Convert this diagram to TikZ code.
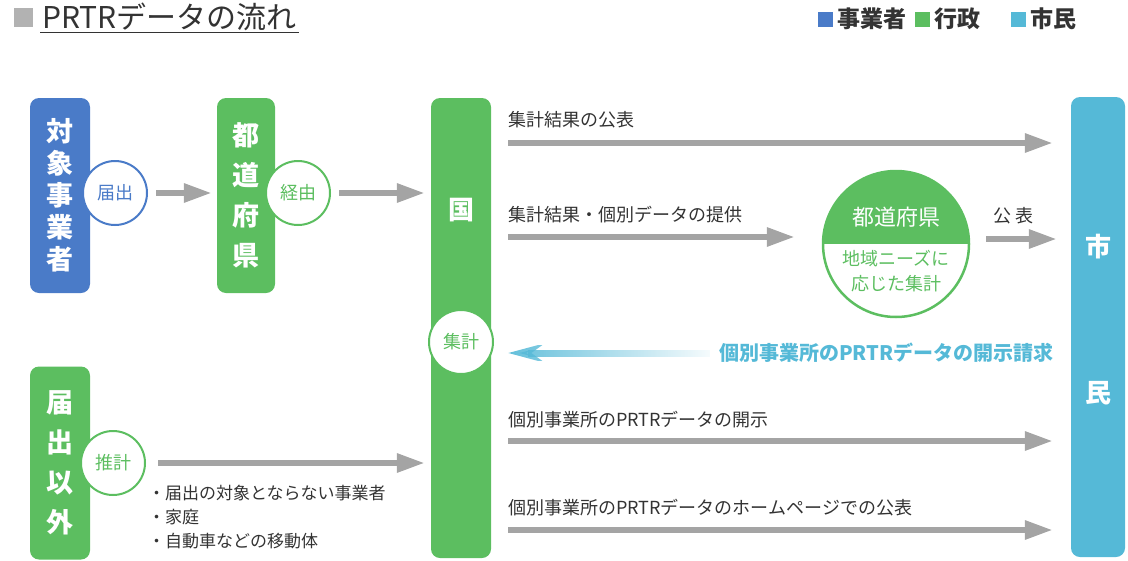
\documentclass[tikz,border=0pt]{standalone}
\usepackage{fontspec}
\setmainfont{Noto Sans CJK JP}
\usetikzlibrary{arrows.meta, fadings, positioning}
\definecolor{jigyoblue}{HTML}{4A7BC8}
\definecolor{gyoseigreen}{HTML}{5CBE60}
\definecolor{shimincyan}{HTML}{55B9D7}
\definecolor{flowgray}{HTML}{A4A4A4}
\definecolor{inkgray}{HTML}{333333}
\tikzfading[name=reqfade, left color=transparent!0, right color=transparent!100]

\begin{document}
\begin{tikzpicture}[x=1pt, y=-1pt,
         > = {Triangle[length=28pt, width=18pt]},
   bar/.style = {rounded corners=9pt, inner sep=0pt, text=white, align=center,
                 font=\fontsize{27}{40}\selectfont\bfseries},
bartxt/.style = {inner sep=0pt, text=white, font=\fontsize{26}{30}\selectfont\bfseries},
  ring/.style = {circle, draw, fill=white, line width=2pt, minimum size=64pt,
                 inner sep=0pt, font=\fontsize{18}{20}\selectfont},
  flow/.style = {->, draw=flowgray, line width=6pt},
   lbl/.style = {anchor=west, inner sep=0pt, text=inkgray, font=\fontsize{18}{22}\selectfont},
reqflow/.style = {-{Stealth[length=36pt, width=19pt, inset=13pt]}, draw=shimincyan,
                 line width=7pt, path fading=reqfade},
 legsq/.style = {minimum size=15pt, inner sep=0pt},
legtxt/.style = {inner sep=0pt, text=inkgray, font=\fontsize{23}{26}\selectfont\bfseries}
                        ]
\useasboundingbox (0,0) rectangle (1128,560);
% title and legend
\node[fill=gray!60, minimum size=19pt, inner sep=0pt] (tsq) at (23,17.5) {};
\node[anchor=base west, inner sep=0pt, text=inkgray, font=\fontsize{30}{32}\selectfont] (title) at (42,28) {PRTRデータの流れ};
\draw[inkgray, line width=1pt] ([shift={(-2pt,-4pt)}]title.base west) -- ([shift={(2pt,-4pt)}]title.base east);
\node[legsq, fill=jigyoblue] (lgjigyo) at (825,19) {};
\node[legtxt, right=5pt of lgjigyo] (lgjigyotxt) {事業者};
\node[legsq, fill=gyoseigreen] (lggyosei) at (922,19) {};
\node[legtxt, right=5pt of lggyosei] (lggyoseitxt) {行政};
\node[legsq, fill=shimincyan] (lgshimin) at (1018,19) {};
\node[legtxt, right=5pt of lgshimin] (lgshimintxt) {市民};
% bars
\node[bar, fill=jigyoblue, minimum width=60pt, minimum height=195pt,
      font=\fontsize{27}{32}\selectfont\bfseries] (jigyo) at (60,195.5) {対\\象\\事\\業\\者};
\node[bar, fill=gyoseigreen, minimum width=58pt, minimum height=195pt] (todofuken) at (246,195.5) {都\\道\\府\\県};
\node[bar, fill=gyoseigreen, minimum width=60pt, minimum height=460pt] (kuni) at (461,328) {};
\node[bartxt] (kuniname) at (461,210) {国};
\node[bar, fill=gyoseigreen, minimum width=60pt, minimum height=193pt] (igai) at (60,463) {届\\出\\以\\外};
\node[bar, fill=shimincyan, minimum width=54pt, minimum height=460pt] (shimin) at (1098,327) {};
\node[bartxt] (shi) at (1098,247) {市};
\node[bartxt] (min) at (1098,393) {民};
% rings
\node[ring, draw=jigyoblue, text=jigyoblue] (todoke) at (115,193) {届出};
\node[ring, draw=gyoseigreen, text=gyoseigreen] (keiyu) at (298,193) {経由};
\node[ring, draw=gyoseigreen, text=gyoseigreen] (suikei) at (113,463) {推計};
\node[ring, draw=gyoseigreen, text=gyoseigreen] (shukei) at (461,342) {集計};
% prefecture circle, half filled
\coordinate (kenc) at (896,244);
\begin{scope}
  \clip (kenc) circle (73pt);
  \fill[gyoseigreen] (kenc) ++(-80,-80) rectangle ++(160,80);
\end{scope}
\node[circle, draw=gyoseigreen, line width=2.5pt, minimum size=146pt, inner sep=0pt] (ken) at (kenc) {};
\node[inner sep=0pt, text=white, font=\fontsize{22}{26}\selectfont] (kenname) at (896,217) {都道府県};
\node[inner sep=0pt, text=gyoseigreen, align=center, font=\fontsize{18}{25}\selectfont] (kennote) at (896,271) {地域ニーズに\\応じた集計};
% flows to the country
\draw[flow, shorten <=8pt, shorten >=5pt] (todoke.east) -- (todoke.east -| todofuken.west);
\draw[flow, shorten <=8pt, shorten >=6pt] (keiyu.east) -- (keiyu.east -| kuni.west);
\draw[flow, shorten <=12pt, shorten >=6pt] (suikei.east) -- (suikei.east -| kuni.west);
\node[lbl, align=left, font=\fontsize{17}{24}\selectfont] (others) at (148,517) {・届出の対象とならない事業者\\・家庭\\・自動車などの移動体};
% flows to the citizens
\coordinate (y1) at (0,143);
\coordinate (y2) at (0,237);
\coordinate (y3) at (0,239);
\coordinate (y4) at (0,441);
\coordinate (y5) at (0,530);
\draw[flow, shorten <=17pt, shorten >=18pt] (kuni.east |- y1) -- (shimin.west |- y1);
\node[lbl] (kohyo) at (508,120) {集計結果の公表};
\draw[flow, shorten <=17pt, shorten >=27pt] (kuni.east |- y2) -- (ken.west |- y2);
\node[lbl] (teikyo) at (508,215) {集計結果・個別データの提供};
\draw[flow, shorten <=16pt, shorten >=14pt] (ken.east |- y3) -- (shimin.west |- y3);
\node[lbl] (kenkohyo) at (993,216) {公 表};
\node[lbl, text=shimincyan, font=\fontsize{20}{24}\selectfont\bfseries] (req) at (719,353) {個別事業所のPRTRデータの開示請求};
\draw[reqflow, shorten <=9pt, shorten >=17pt] (req.west) -- (kuni.east |- req.west);
\draw[flow, shorten <=17pt, shorten >=18pt] (kuni.east |- y4) -- (shimin.west |- y4);
\node[lbl] (kaiji) at (508,420) {個別事業所のPRTRデータの開示};
\draw[flow, shorten <=17pt, shorten >=18pt] (kuni.east |- y5) -- (shimin.west |- y5);
\node[lbl] (hp) at (508,508) {個別事業所のPRTRデータのホームページでの公表};
\end{tikzpicture}
\end{document}
